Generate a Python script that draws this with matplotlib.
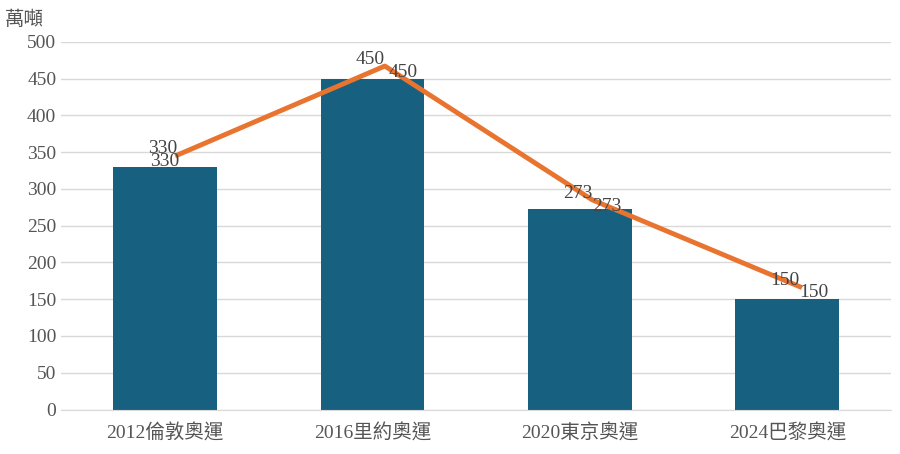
import numpy as np
import matplotlib.pyplot as plt

plt.rcParams['font.family'] = ['Liberation Serif', 'Noto Sans CJK TC']

categories = ['2012倫敦奧運', '2016里約奧運', '2020東京奧運', '2024巴黎奧運']
bar_values = [330, 450, 273, 150]
line_values = [346, 467, 285, 167]

fig = plt.figure(figsize=(9, 4.54), dpi=100)
ax = fig.add_axes([0.068, 0.098, 0.922, 0.81])
ind = np.arange(len(categories))

ax.bar(ind, bar_values, 0.5, color='#17607f', zorder=2)
ax.plot(ind + 0.06, line_values, color='#e8742f', lw=3.5, zorder=3)

# first label sits over the line point, second one a bit lower and to the right
low_dx = [0.0, 0.15, 0.13, 0.13]
for i, (b, l) in enumerate(zip(bar_values, line_values)):
    ax.text(i - 0.01, l - 3, '%d' % b, ha='center', va='bottom', fontsize=14, color='#444444', zorder=4)
    ax.text(i + low_dx[i], l - 20, '%d' % b, ha='center', va='bottom', fontsize=14, color='#444444', zorder=4)

ax.set_ylim(0, 500)
ax.set_xlim(-0.5, 3.5)
ax.set_yticks(range(0, 501, 50))
ax.set_xticks(ind)
ax.set_xticklabels(categories)
ax.tick_params(length=0, labelsize=14, colors='#555555')
ax.tick_params(axis='x', pad=10)
ax.grid(axis='y', color='#d9d9d9', lw=1, zorder=0)
for s in ['top', 'right', 'left']:
    ax.spines[s].set_visible(False)
ax.spines['bottom'].set_color('#d9d9d9')
fig.text(0.005, 0.945, '萬噸', fontsize=14, color='#555555', family=['Noto Sans CJK TC'])

fig.savefig('out.png')
